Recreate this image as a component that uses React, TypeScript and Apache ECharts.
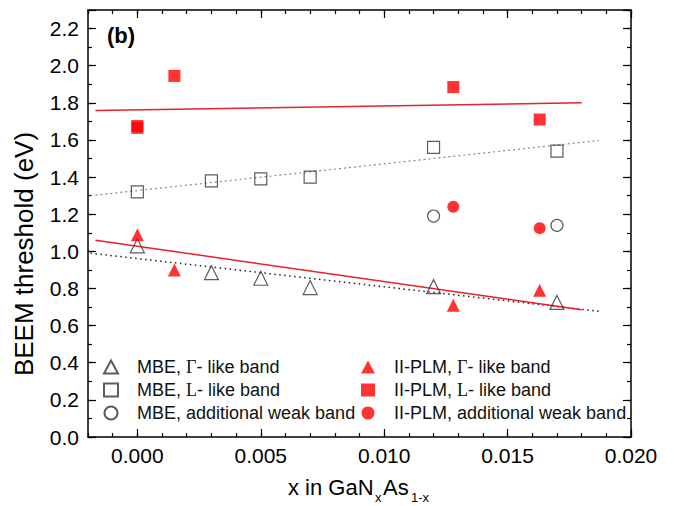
import React, { useEffect, useRef } from "react";
import * as echarts from "echarts";

// ---- data ----
const mbeGammaX = [0.0, 0.003, 0.005, 0.007, 0.012, 0.017];
const mbeGammaY = [1.03, 0.885, 0.855, 0.805, 0.81, 0.725];
const mbeLX = [0.0, 0.003, 0.005, 0.007, 0.012, 0.017];
const mbeLY = [1.32, 1.38, 1.39, 1.4, 1.56, 1.54];
const mbeWeakX = [0.012, 0.017];
const mbeWeakY = [1.19, 1.14];
const plmGammaX = [0.0, 0.0015, 0.0128, 0.0163];
const plmGammaY = [1.09, 0.9, 0.71, 0.79];
const plmLX = [0.0, 0.0, 0.0015, 0.0128, 0.0163];
const plmLY = [1.665, 1.675, 1.945, 1.885, 1.71];
const plmWeakX = [0.0128, 0.0163];
const plmWeakY = [1.24, 1.125];

// fitted lines (end points)
const fitPlmLX = [-0.0017, 0.018];
const fitPlmLY = [1.758, 1.8];
const fitMbeLX = [-0.0019, 0.0187];
const fitMbeLY = [1.3, 1.597];
const fitPlmGX = [-0.0017, 0.018];
const fitPlmGY = [1.06, 0.685];
const fitMbeGX = [-0.0019, 0.0187];
const fitMbeGY = [0.99, 0.677];

const xMajorTicks = [0.0, 0.005, 0.01, 0.015, 0.02];

const nameMbeG = "MBE, Γ- like band";
const nameMbeL = "MBE, L- like band";
const nameMbeW = "MBE, additional weak band";
const namePlmG = "II-PLM, Γ- like band";
const namePlmL = "II-PLM, L- like band";
const namePlmW = "II-PLM, additional weak band";

const zip = (xs: number[], ys: number[]) => xs.map((x, i) => [x, ys[i]]);

const SANS = '"Liberation Sans", Arial, sans-serif';
const SERIF = '"Liberation Serif", "Times New Roman", serif';
const RED = "#ff0000";
const LINE_RED = "#e8202a";

export default function App() {
  const ref = useRef<HTMLDivElement>(null);
  useEffect(() => {
    document.body.style.margin = "0";
    const chart = echarts.init(ref.current!, null, { renderer: "svg" });
    const grid = { left: 88, right: 43, top: 10, bottom: 69 };
    const axisLine = { show: true, onZero: false, lineStyle: { color: "#000", width: 1.5 } };
    const noLine = { show: false, onZero: false };
    const tickStyle = { color: "#000", width: 1.2 };
    const minorX = (pos: string, showLabel: boolean) => ({
      gridIndex: 0,
      type: "value",
      position: pos,
      min: -0.002,
      max: 0.02,
      interval: 0.001,
      axisLine,
      axisTick: { show: true, inside: true, length: 4, lineStyle: tickStyle },
      axisLabel: showLabel
        ? {
            show: true,
            margin: 8,
            fontSize: 21,
            color: "#000",
            fontFamily: SANS,
            formatter: (v: number) => {
              const k = Math.round(v * 1000);
              return k % 5 === 0 ? (Math.abs(v) < 1e-9 ? 0 : v).toFixed(3) : "";
            },
          }
        : { show: false },
      splitLine: { show: false },
    });
    const majorX = (pos: string) => ({
      gridIndex: 1,
      type: "value",
      position: pos,
      min: -0.002,
      max: 0.02,
      interval: 0.001,
      axisLine: noLine,
      axisTick: {
        show: true,
        inside: true,
        length: 8,
        lineStyle: tickStyle,
        customValues: xMajorTicks,
      },
      axisLabel: { show: false },
      splitLine: { show: false },
    });
    const minorY = (pos: string) => ({
      gridIndex: 0,
      type: "value",
      position: pos,
      min: 0,
      max: 2.3,
      interval: 0.1,
      axisLine,
      axisTick: { show: true, inside: true, length: 4, lineStyle: tickStyle },
      axisLabel: { show: false },
      splitLine: { show: false },
    });
    const majorY = (pos: string, showLabel: boolean) => ({
      gridIndex: 1,
      type: "value",
      position: pos,
      min: 0,
      max: 2.3,
      interval: 0.2,
      axisLine: noLine,
      axisTick: { show: true, inside: true, length: 8, lineStyle: tickStyle },
      axisLabel: showLabel
        ? {
            show: true,
            margin: 9,
            fontSize: 21,
            color: "#000",
            fontFamily: SANS,
            formatter: (v: number) => (v > 2.25 ? "" : v.toFixed(1)),
          }
        : { show: false },
      splitLine: { show: false },
    });

    const openStyle = { color: "rgba(255,255,255,0)", borderColor: "#333", borderWidth: 1.2 };
    const redStyle = { color: RED };

    const lineSeries = (xs: number[], ys: number[], ls: any) => ({
      type: "line",
      xAxisIndex: 0,
      yAxisIndex: 0,
      data: zip(xs, ys),
      symbol: "none",
      silent: true,
      lineStyle: ls,
      z: 1,
    });

    const legendText = {
      fontSize: 18,
      lineHeight: 18,
      color: "#111",
      fontFamily: SANS,
      rich: {
        sp: { width: 14, lineHeight: 18 },
        g: { fontSize: 18, lineHeight: 18, fontFamily: SERIF, color: "#111" },
      },
    };
    const legendFmt = (n: string) => "{sp|}" + n.replace(/([ΓL])(?=- )/, "{g|$1}");
    const legendBase = {
      orient: "vertical",
      top: 358,
      itemWidth: 14,
      itemHeight: 13,
      itemGap: 5,
      padding: 0,
      selectedMode: false,
      symbolKeepAspect: true,
      textStyle: legendText,
      formatter: legendFmt,
    };

    chart.setOption({
      animation: false,
      backgroundColor: "#fff",
      grid: [grid, grid],
      xAxis: [minorX("bottom", true), minorX("top", false), majorX("bottom"), majorX("top")],
      yAxis: [minorY("left"), minorY("right"), majorY("left", true), majorY("right", false)],
      legend: [
        { ...legendBase, left: 103, data: [nameMbeG, nameMbeL, nameMbeW] },
        { ...legendBase, left: 361, data: [namePlmG, namePlmL, namePlmW] },
      ],
      series: [
        lineSeries(fitMbeLX, fitMbeLY, { color: "#888", width: 1.2, type: [2, 3] }),
        lineSeries(fitMbeGX, fitMbeGY, { color: "#222", width: 1.5, type: [1.5, 3.5] }),
        lineSeries(fitPlmLX, fitPlmLY, { color: LINE_RED, width: 1.5 }),
        lineSeries(fitPlmGX, fitPlmGY, { color: LINE_RED, width: 1.5 }),
        { name: nameMbeG, type: "scatter", symbol: "triangle", symbolSize: 14, data: zip(mbeGammaX, mbeGammaY), itemStyle: openStyle, z: 2 },
        { name: nameMbeL, type: "scatter", symbol: "rect", symbolSize: 12, data: zip(mbeLX, mbeLY), itemStyle: openStyle, z: 2 },
        { name: nameMbeW, type: "scatter", symbol: "circle", symbolSize: 12, data: zip(mbeWeakX, mbeWeakY), itemStyle: openStyle, z: 2 },
        { name: namePlmG, type: "scatter", symbol: "triangle", symbolSize: 13, data: zip(plmGammaX, plmGammaY), itemStyle: redStyle, z: 3 },
        { name: namePlmL, type: "scatter", symbol: "rect", symbolSize: 12, data: zip(plmLX, plmLY), itemStyle: redStyle, z: 3 },
        { name: namePlmW, type: "scatter", symbol: "circle", symbolSize: 12, data: zip(plmWeakX, plmWeakY), itemStyle: redStyle, z: 3 },
      ],
      graphic: [
        { type: "text", left: 107, top: 24, style: { text: "(b)", font: `bold 22px ${SANS}`, fill: "#000" } },
        {
          type: "text",
          x: 24,
          y: 254,
          rotation: Math.PI / 2,
          style: { text: "BEEM threshold (eV)", font: `26px ${SANS}`, fill: "#000", align: "center", verticalAlign: "middle" },
        },
        { type: "text", x: 288, y: 487, style: { text: "x in GaN", font: `22px ${SANS}`, fill: "#000", align: "left", verticalAlign: "middle" } },
        { type: "text", x: 375, y: 497, style: { text: "x", font: `13px ${SANS}`, fill: "#000", align: "left", verticalAlign: "middle" } },
        { type: "text", x: 383, y: 487, style: { text: "As", font: `22px ${SANS}`, fill: "#000", align: "left", verticalAlign: "middle" } },
        { type: "text", x: 411, y: 497, style: { text: "1-x", font: `13px ${SANS}`, fill: "#000", align: "left", verticalAlign: "middle" } },
      ],
    });
    return () => chart.dispose();
  }, []);
  return (
    <div
      ref={ref}
      style={{ position: "fixed", left: 0, top: 0, width: 674, height: 506, background: "#fff" }}
    />
  );
}
